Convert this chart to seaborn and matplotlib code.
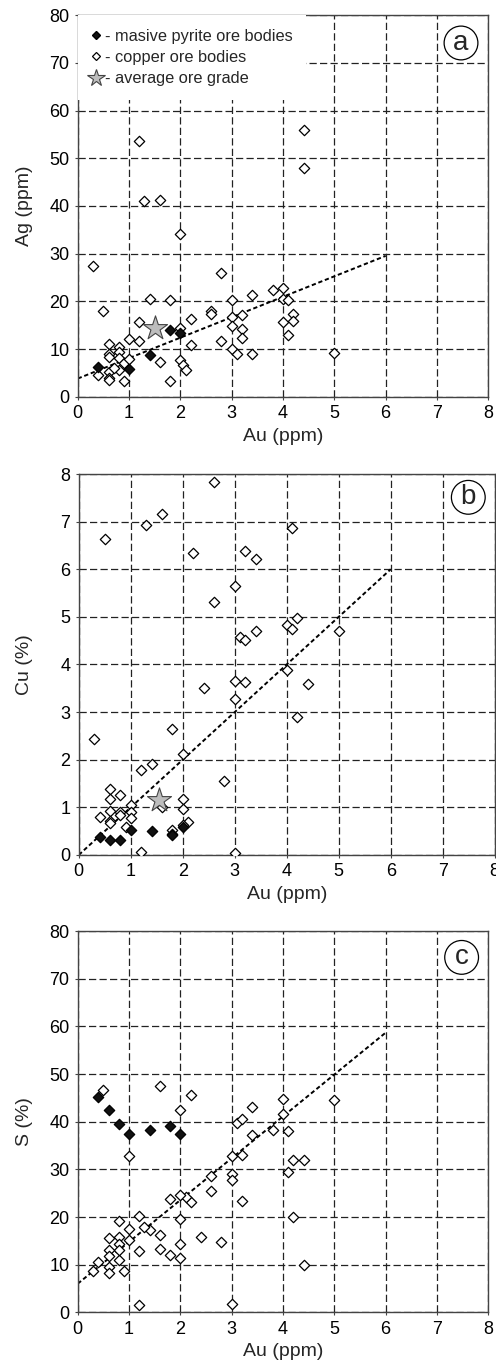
import matplotlib
matplotlib.use("Agg")
import matplotlib.pyplot as plt
from matplotlib.lines import Line2D
import seaborn as sns
import numpy as np

# ---- Panel (a): Au vs Ag ----
a_cu_au = [0.3, 0.5, 1.3, 1.6, 2.0, 2.8, 1.4, 1.8, 1.2, 1.2, 1.0, 2.2, 2.0, 2.2, 2.0, 2.05,
           2.1, 1.6, 1.8, 2.6, 2.6, 2.8, 3.0, 3.0, 3.0, 3.0, 3.1, 3.2, 3.2, 3.2, 3.4, 3.4,
           3.8, 4.0, 4.0, 4.1, 4.0, 4.2, 4.2, 4.1, 5.0, 1.2, 4.4, 4.4,
           0.4, 0.6, 0.6, 0.6, 0.6, 0.6, 0.6, 0.8, 0.8, 0.8, 0.8, 0.9, 0.9, 1.0, 0.7]
a_cu_ag = [27.4, 18.0, 41.0, 41.3, 34.1, 26.0, 20.5, 20.3, 15.7, 11.7, 12.0, 16.4, 14.5, 10.9, 7.6, 6.6,
           5.7, 7.3, 3.3, 18.0, 17.4, 11.6, 20.2, 16.8, 14.8, 10.0, 9.0, 17.2, 14.1, 12.3, 21.4, 8.9,
           22.4, 22.9, 20.5, 20.3, 15.7, 17.4, 15.9, 12.9, 9.1, 53.6, 55.9, 48.0,
           4.5, 11.0, 9.0, 8.3, 5.2, 4.0, 3.5, 10.4, 9.3, 8.2, 5.6, 7.0, 3.3, 8.0, 6.0]
a_py_au = [0.4, 1.0, 1.4, 1.8, 2.0]
a_py_ag = [6.2, 5.8, 8.8, 14.0, 13.3]
a_avg_au = [1.5]
a_avg_ag = [14.5]
a_fit = (3.8, 4.29)          # intercept, slope

# ---- Panel (b): Au vs Cu ----
b_cu_au = [0.5, 1.3, 1.6, 2.6, 2.2, 4.1, 3.2, 3.4, 3.0, 2.6, 4.0, 4.1, 4.2, 5.0, 3.1, 3.2,
           3.4, 4.0, 4.4, 4.2, 3.0, 3.2, 3.0, 2.4, 0.3, 1.8, 2.0, 2.8, 3.0, 1.2, 1.4, 1.2,
           0.6, 0.8, 0.6, 1.0, 0.6, 0.8, 0.4, 0.6, 0.8, 1.0, 1.0, 0.9, 0.6, 1.6, 2.0, 2.0,
           2.1, 2.0, 1.8, 1.8]
b_cu_cu = [6.64, 6.93, 7.16, 7.84, 6.34, 6.87, 6.38, 6.22, 5.64, 5.31, 4.82, 4.75, 4.98, 4.70, 4.58, 4.51,
           4.70, 3.88, 3.59, 2.89, 3.65, 3.63, 3.27, 3.50, 2.43, 2.64, 2.12, 1.56, 0.05, 1.78, 1.90, 0.07,
           1.38, 1.26, 1.17, 1.05, 0.92, 0.91, 0.80, 0.72, 0.84, 0.91, 0.77, 0.59, 0.68, 1.01, 1.17, 0.96,
           0.70, 0.63, 0.52, 0.45]
b_py_au = [0.4, 0.6, 0.8, 1.0, 1.4, 1.8, 2.0]
b_py_cu = [0.37, 0.31, 0.31, 0.53, 0.50, 0.42, 0.58]
b_avg_au = [1.55]
b_avg_cu = [1.15]
b_fit = (0.0, 1.0)

# ---- Panel (c): Au vs S ----
c_cu_au = [0.5, 1.6, 2.2, 2.0, 1.0, 4.0, 5.0, 3.4, 3.1, 3.2, 4.0, 3.8, 4.1, 3.4, 3.0, 3.2,
           4.2, 4.4, 4.1, 3.0, 3.0, 2.6, 2.6, 3.2, 4.2, 4.4, 3.0, 1.2, 2.8, 2.4, 2.2, 2.1,
           2.0, 1.8, 2.0, 2.0, 2.0, 1.8, 1.6, 1.6, 1.4, 1.3, 1.2, 1.2, 1.0, 1.0, 0.8, 0.8,
           0.8, 0.8, 0.8, 0.9, 0.6, 0.6, 0.6, 0.6, 0.6, 0.4, 0.3]
c_cu_s = [46.7, 47.5, 45.7, 42.4, 32.8, 44.7, 44.5, 43.0, 39.7, 40.5, 41.6, 38.2, 38.0, 37.2, 32.9, 33.1,
          32.0, 32.0, 29.5, 29.0, 27.8, 28.7, 25.4, 23.4, 19.9, 9.9, 1.7, 1.5, 14.8, 15.9, 23.2, 24.2,
          24.6, 23.8, 19.5, 14.3, 11.4, 12.0, 16.2, 13.3, 17.3, 17.8, 20.2, 12.9, 17.4, 15.1, 19.2, 15.9,
          14.3, 11.0, 13.0, 8.6, 15.5, 13.1, 11.9, 9.5, 8.2, 10.6, 8.7]
c_py_au = [0.4, 0.6, 0.8, 1.0, 1.4, 1.8, 2.0]
c_py_s = [45.1, 42.5, 39.6, 37.5, 38.3, 39.1, 37.5]
c_fit = (6.0, 8.78)

fit_x = [0, 6]
x_ticks = list(range(0, 9))

sns.set_style("white")
plt.rcParams["font.family"] = ["Liberation Sans", "DejaVu Sans"]

fig = plt.figure(figsize=(4.96, 13.66), dpi=100)

axes_rects = [
    [0.1567, 0.7096, 0.8278, 0.2792],
    [0.1587, 0.3741, 0.8387, 0.2789],
    [0.1567, 0.0393, 0.8278, 0.2791],
]

panels = [
    dict(cu=(a_cu_au, a_cu_ag), py=(a_py_au, a_py_ag), avg=(a_avg_au, a_avg_ag), fit=a_fit,
         ymax=80, ystep=10, ylabel="Ag (ppm)", tag="a", tagpos=(0.9335, 0.9274)),
    dict(cu=(b_cu_au, b_cu_cu), py=(b_py_au, b_py_cu), avg=(b_avg_au, b_avg_cu), fit=b_fit,
         ymax=8, ystep=1, ylabel="Cu (%)", tag="b", tagpos=(0.9365, 0.9388)),
    dict(cu=(c_cu_au, c_cu_s), py=(c_py_au, c_py_s), avg=None, fit=c_fit,
         ymax=80, ystep=10, ylabel="S (%)", tag="c", tagpos=(0.935, 0.931)),
]

grid_ls = (0, (5.8, 2.6))

for rect, p in zip(axes_rects, panels):
    ax = fig.add_axes(rect)
    ax.set_axisbelow(True)

    # regression line
    b0, b1 = p["fit"]
    fx = np.array(fit_x, dtype=float)
    ax.plot(fx, b0 + b1 * fx, color="black", lw=1.4, ls=(0, (2.2, 1.4)), zorder=2)

    sns.scatterplot(x=p["cu"][0], y=p["cu"][1], marker="D", s=28, color="white",
                    edgecolor="black", linewidth=0.9, ax=ax, zorder=3)
    sns.scatterplot(x=p["py"][0], y=p["py"][1], marker="D", s=28, color="#111111",
                    edgecolor="black", linewidth=0.9, ax=ax, zorder=4)
    if p["avg"] is not None:
        sns.scatterplot(x=p["avg"][0], y=p["avg"][1], marker="*", s=330, color="#bdbdbd",
                        edgecolor="#444444", linewidth=0.8, ax=ax, zorder=5)

    ax.set_xlim(0, 8)
    ax.set_ylim(0, p["ymax"])
    ax.set_xticks(x_ticks)
    ax.set_yticks(np.arange(0, p["ymax"] + p["ystep"] / 2, p["ystep"]))
    ax.yaxis.set_major_formatter(matplotlib.ticker.FormatStrFormatter("%d"))
    ax.grid(True, ls=grid_ls, lw=0.9, color="#222222")
    for sp in ax.spines.values():
        sp.set_visible(True)
        sp.set_color("#444444")
        sp.set_linewidth(1.0)
    ax.tick_params(direction="out", length=2.5, width=0.8, color="#444444",
                   labelsize=13, pad=3.5, labelcolor="black",
                   bottom=True, left=True, top=False, right=False)

    ax.set_xlabel("Au (ppm)", fontsize=14, labelpad=4)
    ax.set_ylabel(p["ylabel"], fontsize=14)
    w_px = rect[2] * 496
    ax.yaxis.set_label_coords((33 - rect[0] * 496) / w_px, 0.5)

    ax.text(p["tagpos"][0], p["tagpos"][1], p["tag"], transform=ax.transAxes,
            ha="center", va="center", fontsize=20, zorder=7,
            bbox=dict(boxstyle="circle,pad=0.14", fc="white", ec="black", lw=0.9))

    if p["tag"] == "a":
        handles = [
            Line2D([], [], marker="D", ls="none", mfc="#111111", mec="black", ms=4.3),
            Line2D([], [], marker="D", ls="none", mfc="white", mec="black", ms=4.3, mew=0.9),
            Line2D([], [], marker="*", ls="none", mfc="#bdbdbd", mec="#444444", ms=13, mew=0.8),
        ]
        labels = ["- masive pyrite ore bodies", "- copper ore bodies", "- average ore grade"]
        leg = ax.legend(handles, labels, loc="upper left", bbox_to_anchor=(0, 1),
                        borderaxespad=0.0, frameon=True, fancybox=False, framealpha=1,
                        facecolor="white", edgecolor="none", fontsize=11.75,
                        handlelength=0.55, handletextpad=0.28, labelspacing=0.38,
                        borderpad=0.84)
        leg.set_zorder(6)

fig.savefig("out.png", dpi=100)
